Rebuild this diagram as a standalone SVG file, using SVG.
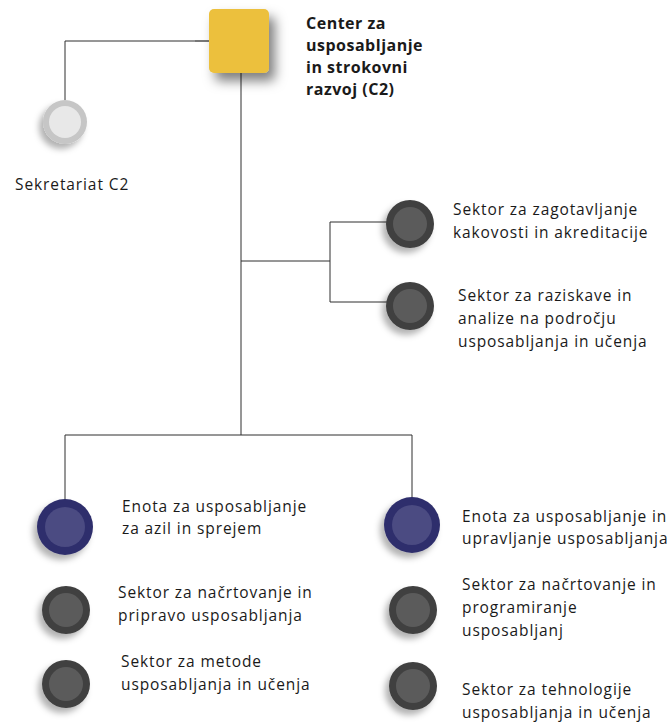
<svg xmlns="http://www.w3.org/2000/svg" width="669" height="727" viewBox="0 0 669 727">
<defs>
<style>
.t{font-family:"Open Sans","Liberation Sans",sans-serif;font-size:15.5px;letter-spacing:0.9px;fill:#1a1a1a}
.b{font-family:"Open Sans","Liberation Sans",sans-serif;font-size:16px;font-weight:bold;letter-spacing:0.5px;fill:#1a1a1a}
.ln{stroke:#2e2e2e;stroke-width:1;fill:none}
.dk-o{fill:#404040}.dk-i{fill:#5b5b5b}
.bl-o{fill:#2f2f6c}.bl-i{fill:#4b4b82}
.gr-o{fill:#c6c6c6}.gr-i{fill:#e8e8e8}
</style>
<filter id="cs" x="-50%" y="-50%" width="200%" height="200%">
<feDropShadow dx="-4" dy="5" stdDeviation="3" flood-color="#000" flood-opacity="0.3"/>
</filter>
<filter id="ss" x="-50%" y="-50%" width="200%" height="200%">
<feDropShadow dx="6" dy="8" stdDeviation="6" flood-color="#000" flood-opacity="0.5"/>
</filter>
</defs>
<rect width="669" height="727" fill="#fff"/>
<g id="connectors">
<polyline class="ln" points="209,41 65,41 65,100"/>
<line x1="195" y1="41" x2="209" y2="41" stroke="#777" stroke-width="2"/>
<line class="ln" x1="241" y1="73" x2="241" y2="435"/>
<line class="ln" x1="241" y1="261" x2="330" y2="261"/>
<polyline class="ln" points="387,222 330,222 330,302 387,302"/>
<polyline class="ln" points="65,500 65,435 412,435 412,498"/>
</g>
<g id="center">
<rect x="209" y="9" width="60" height="64" rx="5" fill="#ecc03c" filter="url(#ss)"/>
<text class="b" x="306" y="29">Center za</text>
<text class="b" x="306" y="51">usposabljanje</text>
<text class="b" x="306" y="73">in strokovni</text>
<text class="b" x="306" y="95">razvoj (C2)</text>
</g>
<g id="sekretariat">
<circle class="gr-o" cx="65" cy="122" r="22" filter="url(#cs)"/>
<circle class="gr-i" cx="65" cy="122" r="16"/>
<text class="t" x="15" y="190">Sekretariat C2</text>
</g>
<g id="kakovost">
<circle class="dk-o" cx="410" cy="224" r="24" filter="url(#cs)"/>
<circle class="dk-i" cx="410" cy="224" r="17"/>
<text class="t" x="453" y="215">Sektor za zagotavljanje</text>
<text class="t" x="453" y="238">kakovosti in akreditacije</text>
</g>
<g id="raziskave">
<circle class="dk-o" cx="410" cy="306" r="24" filter="url(#cs)"/>
<circle class="dk-i" cx="410" cy="306" r="17"/>
<text class="t" x="458" y="301">Sektor za raziskave in</text>
<text class="t" x="458" y="324">analize na področju</text>
<text class="t" x="458" y="347">usposabljanja in učenja</text>
</g>
<g id="azil">
<circle class="bl-o" cx="65" cy="527" r="28" filter="url(#cs)"/>
<circle class="bl-i" cx="65" cy="527" r="20"/>
<text class="t" x="122" y="512">Enota za usposabljanje</text>
<text class="t" x="122" y="534">za azil in sprejem</text>
</g>
<g id="upravljanje">
<circle class="bl-o" cx="412" cy="525" r="28" filter="url(#cs)"/>
<circle class="bl-i" cx="412" cy="525" r="20"/>
<text class="t" x="462" y="522">Enota za usposabljanje in</text>
<text class="t" x="462" y="544">upravljanje usposabljanja</text>
</g>
<g id="pripravo">
<circle class="dk-o" cx="66" cy="610" r="24" filter="url(#cs)"/>
<circle class="dk-i" cx="66" cy="610" r="17"/>
<text class="t" x="118" y="598">Sektor za načrtovanje in</text>
<text class="t" x="118" y="621">pripravo usposabljanja</text>
</g>
<g id="metode">
<circle class="dk-o" cx="66" cy="684" r="24" filter="url(#cs)"/>
<circle class="dk-i" cx="66" cy="684" r="17"/>
<text class="t" x="121" y="667">Sektor za metode</text>
<text class="t" x="121" y="690">usposabljanja in učenja</text>
</g>
<g id="programiranje">
<circle class="dk-o" cx="413" cy="610" r="24" filter="url(#cs)"/>
<circle class="dk-i" cx="413" cy="610" r="17"/>
<text class="t" x="462" y="590">Sektor za načrtovanje in</text>
<text class="t" x="462" y="613">programiranje</text>
<text class="t" x="462" y="636">usposabljanj</text>
</g>
<g id="tehnologije">
<circle class="dk-o" cx="413" cy="686" r="24" filter="url(#cs)"/>
<circle class="dk-i" cx="413" cy="686" r="17"/>
<text class="t" x="462" y="695">Sektor za tehnologije</text>
<text class="t" x="462" y="718">usposabljanja in učenja</text>
</g>
</svg>
